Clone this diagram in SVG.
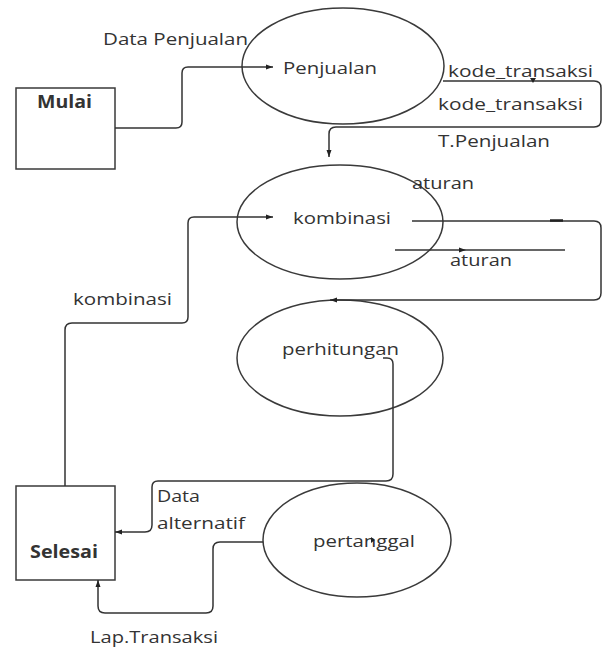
<svg xmlns="http://www.w3.org/2000/svg" width="614" height="649" viewBox="0 0 614 649">
<style>
text{font-family:"Open Sans","Liberation Sans",Arial,sans-serif;font-size:17px;fill:#333;}
.b{font-weight:bold;}
.shape{fill:none;stroke:#3a3a3a;stroke-width:1.5;}
.ln{fill:none;stroke:#333;stroke-width:1.5;}
</style>
<defs>
<marker id="ah" markerWidth="8" markerHeight="8" refX="7" refY="4" orient="auto" markerUnits="userSpaceOnUse">
<path d="M0,1.5 L7,4 L0,6.5 Z" fill="#222"/>
</marker>
</defs>
<rect width="614" height="649" fill="#fff"/>
<g id="mulai">
<rect class="shape" x="16" y="88" width="99" height="81"/>
<text class="b" x="37" y="108" textLength="55" lengthAdjust="spacingAndGlyphs">Mulai</text>
</g>
<g id="selesai">
<rect class="shape" x="16" y="486" width="99" height="94"/>
<text class="b" x="30" y="558" textLength="68" lengthAdjust="spacingAndGlyphs">Selesai</text>
</g>
<g id="penjualan">
<ellipse class="shape" cx="343" cy="66" rx="101" ry="58"/>
<text x="283" y="74" textLength="94" lengthAdjust="spacingAndGlyphs">Penjualan</text>
</g>
<g id="kombinasi">
<ellipse class="shape" cx="340" cy="222" rx="103" ry="57"/>
<text x="293" y="224" textLength="98" lengthAdjust="spacingAndGlyphs">kombinasi</text>
</g>
<g id="perhitungan">
<ellipse class="shape" cx="340" cy="358" rx="103" ry="58"/>
<text x="282" y="355" textLength="117" lengthAdjust="spacingAndGlyphs">perhitungan</text>
</g>
<g id="pertanggal">
<ellipse class="shape" cx="357" cy="540" rx="94" ry="57"/>
<text x="313" y="547" textLength="102" lengthAdjust="spacingAndGlyphs">pertanggal</text>
<path d="M371,537 L375,540 L371,543 Z" fill="#222"/>
</g>
<g id="connectors">
<path class="ln" d="M115,128 H176 Q182,128 182,122 V73 Q182,67 188,67 H273" marker-end="url(#ah)"/>
<path class="ln" d="M443,81 H594 Q601,81 601,88 V120 Q601,127 594,127 H336 Q329,127 329,134 V157" marker-end="url(#ah)"/>
<path d="M530,78 L533,83 L536,78 Z" fill="#222"/>
<path class="ln" d="M65,486 V330 Q65,323 72,323 H182 Q188,323 188,317 V223 Q188,217 194,217 H273" marker-end="url(#ah)"/>
<path class="ln" d="M412,221 H594 Q601,221 601,228 V293 Q601,300 594,300 H330" marker-end="url(#ah)"/>
<path d="M550,220.5 H563" stroke="#222" stroke-width="2.5"/>
<path class="ln" d="M395,250 H466" marker-end="url(#ah)"/>
<path class="ln" d="M466,250 H565"/>
<path class="ln" d="M383,358 H387 Q393,358 393,364 V474 Q393,481 386,481 H158 Q152,481 152,487 V525 Q152,532 145,532 H115" marker-end="url(#ah)"/>
<path class="ln" d="M263,542 H220 Q213,542 213,549 V606 Q213,613 206,613 H105 Q98,613 98,606 V580" marker-end="url(#ah)"/>
</g>
<g id="labels">
<text x="103" y="45" textLength="145" lengthAdjust="spacingAndGlyphs">Data Penjualan</text>
<text x="448" y="77" textLength="145" lengthAdjust="spacingAndGlyphs">kode_transaksi</text>
<text x="438" y="110" textLength="145" lengthAdjust="spacingAndGlyphs">kode_transaksi</text>
<text x="438" y="147" textLength="112" lengthAdjust="spacingAndGlyphs">T.Penjualan</text>
<text x="412" y="189" textLength="62" lengthAdjust="spacingAndGlyphs">aturan</text>
<text x="450" y="266" textLength="62" lengthAdjust="spacingAndGlyphs">aturan</text>
<text x="73" y="305" textLength="99" lengthAdjust="spacingAndGlyphs">kombinasi</text>
<text x="157" y="502" textLength="43" lengthAdjust="spacingAndGlyphs">Data</text>
<text x="157" y="529" textLength="88" lengthAdjust="spacingAndGlyphs">alternatif</text>
<text x="90" y="643" textLength="128" lengthAdjust="spacingAndGlyphs">Lap.Transaksi</text>
</g>
</svg>
